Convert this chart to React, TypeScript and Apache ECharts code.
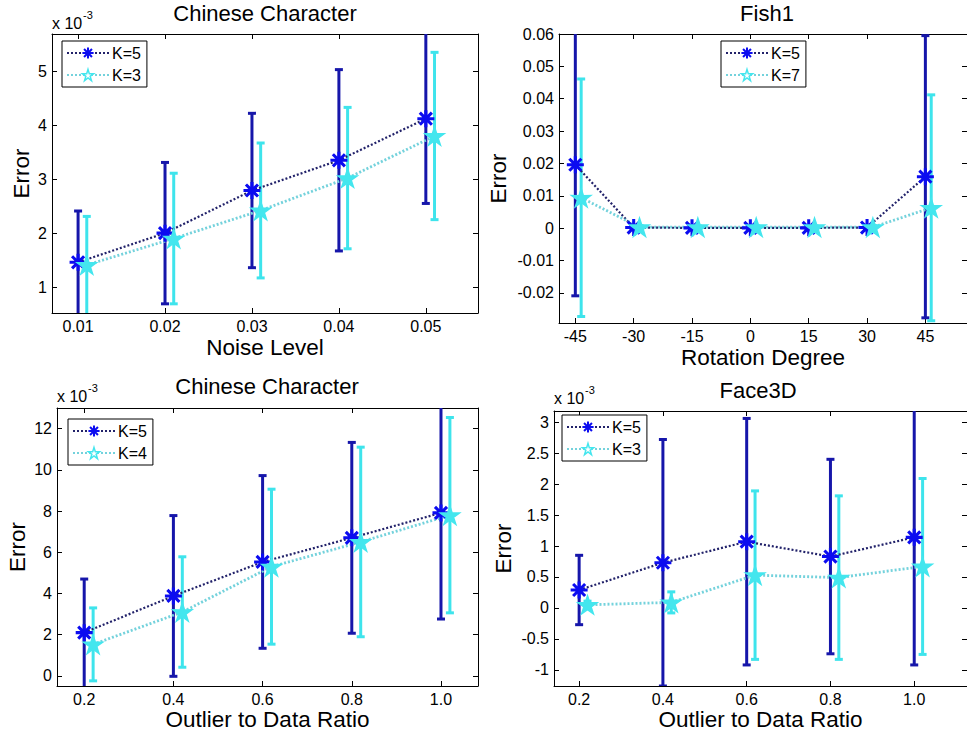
import React, { useEffect, useRef } from "react";
import * as echarts from "echarts";

// ---------- data ----------
// Panel 1: Chinese Character, noise (values x 1e-3)
const P1_X_K5 = [0.01, 0.02, 0.03, 0.04, 0.05];
const P1_X_K3 = [0.011, 0.021, 0.031, 0.041, 0.051];
const P1_K5_MEAN = [1.46, 2.0, 2.79, 3.35, 4.12];
const P1_K5_ERR = [0.95, 1.31, 1.43, 1.68, 1.57];
const P1_K3_MEAN = [1.41, 1.9, 2.42, 3.02, 3.8];
const P1_K3_ERR = [0.9, 1.21, 1.25, 1.31, 1.55];
const P1_XTICKS = [0.01, 0.02, 0.03, 0.04, 0.05];
const P1_YTICKS = [1, 2, 3, 4, 5];

// Panel 2: Fish1, rotation
const P2_X_K5 = [-45, -30, -15, 0, 15, 30, 45];
const P2_X_K7 = [-43.5, -28.5, -13.5, 1.5, 16.5, 31.5, 46.5];
const P2_K5_MEAN = [0.0196, 0.0002, 0.0001, 0.0001, 0.0001, 0.0002, 0.0159];
const P2_K5_ERR = [0.0405, 0.0005, 0.0003, 0.0003, 0.0003, 0.0005, 0.0436];
const P2_K7_MEAN = [0.0094, 0.0003, 0.0003, 0.0003, 0.0003, 0.0003, 0.0063];
const P2_K7_ERR = [0.0367, 0.0005, 0.0004, 0.0004, 0.0004, 0.0005, 0.0349];
const P2_XTICKS = [-45, -30, -15, 0, 15, 30, 45];
const P2_YTICKS = [-0.02, -0.01, 0, 0.01, 0.02, 0.03, 0.04, 0.05, 0.06];

// Panel 3: Chinese Character, outliers (values x 1e-3)
const P3_X_K5 = [0.2, 0.4, 0.6, 0.8, 1.0];
const P3_X_K4 = [0.22, 0.42, 0.62, 0.82, 1.02];
const P3_K5_MEAN = [2.1, 3.88, 5.53, 6.7, 7.91];
const P3_K5_ERR = [2.6, 3.9, 4.19, 4.63, 5.15];
const P3_K4_MEAN = [1.53, 3.1, 5.3, 6.5, 7.8];
const P3_K4_ERR = [1.77, 2.68, 3.76, 4.6, 4.74];
const P3_XTICKS = [0.2, 0.4, 0.6, 0.8, 1.0];
const P3_YTICKS = [0, 2, 4, 6, 8, 10, 12];

// Panel 4: Face3D, outliers (values x 1e-3)
const P4_X_K5 = [0.2, 0.4, 0.6, 0.8, 1.0];
const P4_X_K3 = [0.22, 0.42, 0.62, 0.82, 1.02];
const P4_K5_MEAN = [0.29, 0.73, 1.07, 0.83, 1.14];
const P4_K5_ERR = [0.56, 1.99, 1.99, 1.57, 2.06];
const P4_K3_MEAN = [0.05, 0.09, 0.53, 0.49, 0.67];
const P4_K3_ERR = [0.06, 0.17, 1.36, 1.32, 1.42];
const P4_XTICKS = [0.2, 0.4, 0.6, 0.8, 1.0];
const P4_YTICKS = [-1, -0.5, 0, 0.5, 1, 1.5, 2, 2.5, 3];

// ---------- styles ----------
const FONT = "'Liberation Sans', Arial, sans-serif";
const DARK_BAR = "#1616aa";
const DARK_MARK = "#0c0cf0";
const DARK_LINE = "#22226a";
const CYAN_BAR = "#3ee4ec";
const CYAN_MARK = "#44e6ee";
const CYAN_LINE = "#74d2dc";

const ASTERISK =
  "path://M41 0L59 0L59 100L41 100Z M0 41L100 41L100 59L0 59Z M21.0 8.2L91.8 79.0L79.0 91.8L8.2 21.0Z M79.0 8.2L91.8 21.0L21.0 91.8L8.2 79.0Z";
const STAR =
  "path://M50 0L61.2 34.6L97.6 34.5L68.1 55.9L79.4 90.5L50 69L20.6 90.5L31.9 55.9L2.4 34.5L38.8 34.6Z";

function makeErr(color: string) {
  return (params: any, api: any) => {
    const x = api.value(0);
    const lo = api.value(1);
    const hi = api.value(2);
    const cs = params.coordSys;
    const pLo = api.coord([x, lo]);
    const pHi = api.coord([x, hi]);
    const top = cs.y;
    const bottom = cs.y + cs.height;
    const yHi = Math.max(pHi[1], top);
    const yLo = Math.min(pLo[1], bottom);
    const hw = 4;
    const style = { stroke: color, lineWidth: 3 };
    const children: any[] = [
      { type: "line", shape: { x1: pLo[0], y1: yLo, x2: pHi[0], y2: yHi }, style },
    ];
    if (pHi[1] >= top)
      children.push({ type: "line", shape: { x1: pHi[0] - hw, y1: pHi[1], x2: pHi[0] + hw, y2: pHi[1] }, style });
    if (pLo[1] <= bottom)
      children.push({ type: "line", shape: { x1: pLo[0] - hw, y1: pLo[1], x2: pLo[0] + hw, y2: pLo[1] }, style });
    return { type: "group", children };
  };
}

function errSeries(name: string, idx: number, xs: number[], mean: number[], err: number[], color: string) {
  return {
    type: "custom",
    name,
    xAxisIndex: idx * 2,
    yAxisIndex: idx * 2,
    data: xs.map((x, i) => [x, mean[i] - err[i], mean[i] + err[i]]),
    encode: { x: 0, y: [1, 2] },
    renderItem: makeErr(color),
    clip: true,
    z: 2,
  };
}

function lineSeries(name: string, idx: number, xs: number[], mean: number[], dark: boolean) {
  return {
    type: "line",
    name,
    xAxisIndex: idx * 2,
    yAxisIndex: idx * 2,
    data: xs.map((x, i) => [x, mean[i]]),
    symbol: dark ? ASTERISK : STAR,
    symbolSize: dark ? 17 : 19,
    symbolKeepAspect: true,
    itemStyle: dark
      ? { color: DARK_MARK }
      : { color: CYAN_MARK, borderColor: CYAN_MARK, borderWidth: 1.5 },
    lineStyle: { color: dark ? DARK_LINE : CYAN_LINE, width: dark ? 2.2 : 2.8, type: [2, 2] },
    clip: true,
    z: 3,
  };
}

type PanelCfg = {
  xmin: number; xmax: number; ymin: number; ymax: number;
  xticks: number[]; yticks: number[];
  xfmt: (v: number) => string; yfmt: (v: number) => string;
  xname: string; xnameGap: number; ynameGap: number;
};

function axesFor(i: number, c: PanelCfg) {
  const base = { lineStyle: { color: "#000", width: 1 } };
  const tickBase = { inside: true, length: 5, lineStyle: { color: "#000", width: 1 } };
  const labelBase = { fontSize: 16, color: "#000", fontFamily: FONT };
  const xAxes = [
    {
      type: "value", gridIndex: i, position: "bottom", min: c.xmin, max: c.xmax,
      axisLine: { show: true, onZero: false, ...base },
      axisTick: { ...tickBase, customValues: c.xticks },
      axisLabel: { ...labelBase, margin: 5, customValues: c.xticks, formatter: c.xfmt },
      splitLine: { show: false },
      name: c.xname, nameLocation: "middle", nameGap: c.xnameGap,
      nameTextStyle: { fontSize: 22.5, color: "#000", fontFamily: FONT },
    },
    {
      type: "value", gridIndex: i, position: "top", min: c.xmin, max: c.xmax,
      axisLine: { show: true, onZero: false, ...base },
      axisTick: { ...tickBase, customValues: c.xticks },
      axisLabel: { show: false },
      splitLine: { show: false },
    },
  ];
  const yAxes = [
    {
      type: "value", gridIndex: i, position: "left", min: c.ymin, max: c.ymax,
      axisLine: { show: true, onZero: false, ...base },
      axisTick: { ...tickBase, customValues: c.yticks },
      axisLabel: { ...labelBase, margin: 5, customValues: c.yticks, formatter: c.yfmt },
      splitLine: { show: false },
      name: "Error", nameLocation: "middle", nameGap: c.ynameGap,
      nameTextStyle: { fontSize: 22.5, color: "#000", fontFamily: FONT },
    },
    {
      type: "value", gridIndex: i, position: "right", min: c.ymin, max: c.ymax,
      axisLine: { show: true, onZero: false, ...base },
      axisTick: { ...tickBase, customValues: c.yticks },
      axisLabel: { show: false },
      splitLine: { show: false },
    },
  ];
  return { xAxes, yAxes };
}

const fmtFixed = (d: number) => (v: number) => v.toFixed(d);
const fmtPlain = (v: number) => {
  const r = Math.round(v * 1000) / 1000;
  return String(r);
};
const fmtP2Y = (v: number) => (Math.abs(v) < 1e-9 ? "0" : v.toFixed(2));

const PANELS: PanelCfg[] = [
  { xmin: 0.007, xmax: 0.056, ymin: 0.52, ymax: 5.69, xticks: P1_XTICKS, yticks: P1_YTICKS,
    xfmt: fmtFixed(2), yfmt: fmtPlain, xname: "Noise Level", xnameGap: 23, ynameGap: 19 },
  { xmin: -49.2, xmax: 55.7, ymin: -0.0293, ymax: 0.06, xticks: P2_XTICKS, yticks: P2_YTICKS,
    xfmt: fmtPlain, yfmt: fmtP2Y, xname: "Rotation Degree", xnameGap: 23, ynameGap: 49 },
  { xmin: 0.139, xmax: 1.083, ymin: -0.49, ymax: 13.0, xticks: P3_XTICKS, yticks: P3_YTICKS,
    xfmt: fmtFixed(1), yfmt: fmtPlain, xname: "Outlier to Data Ratio", xnameGap: 21, ynameGap: 28 },
  { xmin: 0.14, xmax: 1.126, ymin: -1.26, ymax: 3.18, xticks: P4_XTICKS, yticks: P4_YTICKS,
    xfmt: fmtFixed(1), yfmt: fmtPlain, xname: "Outlier to Data Ratio", xnameGap: 21, ynameGap: 39 },
];

const GRIDS = [
  { left: 52, top: 34, width: 426, height: 279 },
  { left: 559, top: 34, width: 421, height: 289 },
  { left: 57, top: 408, width: 421, height: 278 },
  { left: 554, top: 411, width: 426, height: 275 },
];

function legendAt(names: string[], left: number, top: number) {
  return {
    data: [
      { name: names[0], itemStyle: { color: DARK_MARK } },
      { name: names[1], itemStyle: { color: "#fff", borderColor: CYAN_MARK, borderWidth: 1.5 } },
    ],
    left, top,
    orient: "vertical",
    backgroundColor: "#fff",
    borderColor: "#000",
    borderWidth: 1,
    borderRadius: 0,
    padding: [4, 6, 4, 4],
    itemGap: 6,
    itemWidth: 42,
    itemHeight: 14,
    selectedMode: false,
    textStyle: { fontSize: 16, color: "#000", fontFamily: FONT, padding: [0, 0, 0, -2] },
  };
}

function titleText(text: string, x: number, y: number) {
  return {
    type: "text", x, y,
    style: { text, fontSize: 22, fontFamily: FONT, fill: "#000", align: "center", verticalAlign: "middle" },
  };
}
function expText(x: number, y: number) {
  return [
    { type: "text", x, y, style: { text: "x 10", fontSize: 16, fontFamily: FONT, fill: "#000", verticalAlign: "top" } },
    { type: "text", x: x + 31, y: y - 6, style: { text: "-3", fontSize: 11, fontFamily: FONT, fill: "#000", verticalAlign: "top" } },
  ];
}

export default function App() {
  const ref = useRef<HTMLDivElement>(null);
  useEffect(() => {
    if (!ref.current) return;
    const chart = echarts.init(ref.current, undefined, { renderer: "svg" });
    const xAxis: any[] = [];
    const yAxis: any[] = [];
    PANELS.forEach((p, i) => {
      const a = axesFor(i, p);
      xAxis.push(...a.xAxes);
      yAxis.push(...a.yAxes);
    });
    const series: any[] = [
      errSeries("e1a", 0, P1_X_K5, P1_K5_MEAN, P1_K5_ERR, DARK_BAR),
      lineSeries("K=5", 0, P1_X_K5, P1_K5_MEAN, true),
      errSeries("e1b", 0, P1_X_K3, P1_K3_MEAN, P1_K3_ERR, CYAN_BAR),
      lineSeries("K=3", 0, P1_X_K3, P1_K3_MEAN, false),

      errSeries("e2a", 1, P2_X_K5, P2_K5_MEAN, P2_K5_ERR, DARK_BAR),
      lineSeries("K=5", 1, P2_X_K5, P2_K5_MEAN, true),
      errSeries("e2b", 1, P2_X_K7, P2_K7_MEAN, P2_K7_ERR, CYAN_BAR),
      lineSeries("K=7", 1, P2_X_K7, P2_K7_MEAN, false),

      errSeries("e3a", 2, P3_X_K5, P3_K5_MEAN, P3_K5_ERR, DARK_BAR),
      lineSeries("K=5", 2, P3_X_K5, P3_K5_MEAN, true),
      errSeries("e3b", 2, P3_X_K4, P3_K4_MEAN, P3_K4_ERR, CYAN_BAR),
      lineSeries("K=4", 2, P3_X_K4, P3_K4_MEAN, false),

      errSeries("e4a", 3, P4_X_K5, P4_K5_MEAN, P4_K5_ERR, DARK_BAR),
      lineSeries("K=5", 3, P4_X_K5, P4_K5_MEAN, true),
      errSeries("e4b", 3, P4_X_K3, P4_K3_MEAN, P4_K3_ERR, CYAN_BAR),
      lineSeries("K=3", 3, P4_X_K3, P4_K3_MEAN, false),
    ];
    chart.setOption({
      animation: false,
      backgroundColor: "#fff",
      textStyle: { fontFamily: FONT },
      grid: GRIDS.map((g) => ({ ...g, containLabel: false })),
      xAxis,
      yAxis,
      legend: [
        legendAt(["K=5", "K=3"], 62, 41),
        legendAt(["K=5", "K=7"], 721, 41),
        legendAt(["K=5", "K=4"], 68, 419),
        legendAt(["K=5", "K=3"], 562, 415),
      ],
      graphic: [
        titleText("Chinese Character", 265, 13),
        titleText("Fish1", 767, 13),
        titleText("Chinese Character", 267, 386),
        titleText("Face3D", 758, 390),
        ...expText(52, 15),
        ...expText(57, 388),
        ...expText(554, 390),
      ],
      series,
    });
    return () => chart.dispose();
  }, []);
  return (
    <div
      ref={ref}
      style={{ position: "absolute", left: 0, top: 0, width: 967, height: 734, background: "#fff" }}
    />
  );
}
